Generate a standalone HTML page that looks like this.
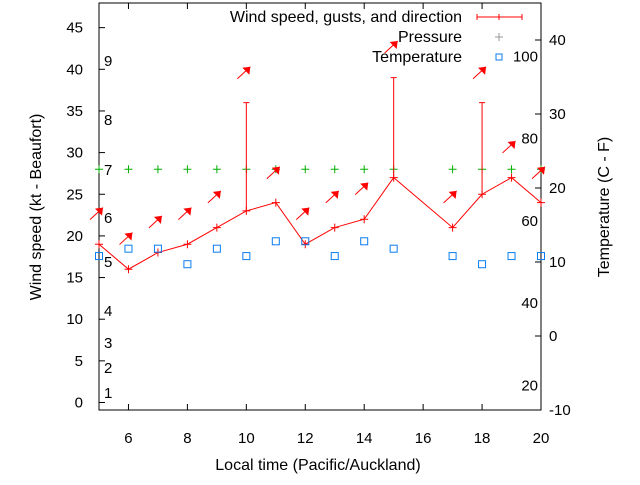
<!DOCTYPE html>
<html><head><meta charset="utf-8"><style>
body{margin:0;background:#fff;}
svg text{font-family:"Liberation Sans",sans-serif;font-size:15px;fill:#000;}
svg text.big{font-size:16px;}
</style></head><body>
<svg id="chart" width="640" height="480" xmlns="http://www.w3.org/2000/svg"></svg>
<script>
const hours=[5,6,7,8,9,10,11,12,13,14,15,17,18,19,20];
const windSpeed=[19,16,18,19,21,23,24,19,21,22,27,21,25,27,24];
const gustHours=[10,15,18];
const gustValues=[36,39,36];
const pressure=[28,28,28,28,28,28,28,28,28,28,28,28,28,28,28];
const temperature=[10.8,11.8,11.8,9.7,11.8,10.8,12.8,12.8,10.8,12.8,11.8,10.8,9.7,10.8,10.8];
const arrowTip=[23.4,20.4,22.4,23.4,25.4,40.3,28.3,23.4,25.4,26.4,43.4,25.4,40.3,31.4,28.3];
const xTicks=[6,8,10,12,14,16,18,20];
const yTicks=[0,5,10,15,20,25,30,35,40,45];
const y2Ticks=[-10,0,10,20,30,40];
const beaufortLabels=["1","2","3","4","5","6","7","8","9"];
const fLabels=["20","40","60","80","100"];
const fVals=[20,40,60,80,100];

const L=99,R=541,T=3,B=410;
const X=h=>L+(h-5)*(R-L)/15;
const Y=v=>402.5-v*8.33;
const Y2=c=>410-(c+10)*7.4;
const svg=document.getElementById('chart');
const NS='http://www.w3.org/2000/svg';
function mk(tag,attrs,parent){const e=document.createElementNS(NS,tag);for(const k in attrs)e.setAttribute(k,attrs[k]);(parent||svg).appendChild(e);return e;}
function txt(s,x,y,anchor){const t=mk('text',{x:x,y:y,'text-anchor':anchor||'start'});t.textContent=s;return t;}

let f=mk('rect',{x:L,y:T,width:R-L,height:B-T,fill:'none',stroke:'#000','stroke-width':1});



xTicks.forEach(h=>{
  mk('line',{x1:X(h),x2:X(h),y1:B,y2:B-6,stroke:'#000'});
  mk('line',{x1:X(h),x2:X(h),y1:T,y2:T+6,stroke:'#000'});
  const t=txt(String(h),X(h),443,'middle');
  
  
});
yTicks.forEach(v=>{
  mk('line',{x1:L,x2:L+6,y1:Y(v),y2:Y(v),stroke:'#000'});
  const t=txt(String(v),83,Y(v)+5,'end');
  
  
});
y2Ticks.forEach(v=>{
  mk('line',{x1:R,x2:R-6,y1:Y2(v),y2:Y2(v),stroke:'#000'});
  const t=txt(String(v),549,Y2(v)+5,'start');
  
  
});
const bfY=[393,368,343,311,262,218,170,120,61];
beaufortLabels.forEach((s,i)=>{
  const t=txt(s,104,bfY[i]+5,'start');
  
  
});
fLabels.forEach((s,i)=>{
  const t=txt(s,538,Y2((fVals[i]-32)*5/9)+5,'end');
  
  
});

let t=txt('Local time (Pacific/Auckland)',318,470,'middle');
t.setAttribute('class','big');

t=mk('text',{x:0,y:0,'text-anchor':'middle','class':'big',transform:'translate(41,207) rotate(-90)'});t.textContent='Wind speed (kt - Beaufort)';

t=mk('text',{x:0,y:0,'text-anchor':'middle','class':'big',transform:'translate(609,207) rotate(-90)'});t.textContent='Temperature (C - F)';


function plus(x,y,col,name){const g=mk('path',{d:`M${x-4},${y}H${x+4}M${x},${y-4}V${y+4}`,stroke:col,fill:'none'});
return g;}

pressure.forEach((p,i)=>plus(X(hours[i]),Y(p),'#00b000','pressure-point'));
gustHours.forEach((h,i)=>{
  const ws=windSpeed[hours.indexOf(h)];
  const g=mk('path',{d:`M${X(h)},${Y(ws)}V${Y(gustValues[i])}M${X(h)-3},${Y(gustValues[i])}H${X(h)+3}`,stroke:'#f00',fill:'none'});
  
});
let d='';hours.forEach((h,i)=>{d+=(i===0?'M':'L')+X(h)+','+Y(windSpeed[i]);});
let wl=mk('path',{d:d,stroke:'#f00',fill:'none','stroke-width':1});

hours.forEach((h,i)=>plus(X(h),Y(windSpeed[i]),'#f00','wind-speed-point'));
temperature.forEach((c,i)=>{
  const r=mk('rect',{x:X(hours[i])-3.5,y:Y2(c)-3.5,width:7,height:7,fill:'none',stroke:'#0a7cf0','stroke-width':1});
  
});
arrowTip.forEach((v,i)=>{
  const x=X(hours[i])+4,y=Y(v);
  const g=mk('g',{});
  
  mk('line',{x1:x-13,y1:y+12,x2:x,y2:y,stroke:'#f00','stroke-width':1},g);
  mk('polygon',{points:`${x},${y} ${x-8},${y+1} ${x-1},${y+8}`,fill:'#f00'},g);
});

const lg=mk('g',{});

[['Wind speed, gusts, and direction',22],['Pressure',42],['Temperature',62]].forEach(a=>{
  const e=mk('text',{x:462,y:a[1],'text-anchor':'end','class':'big'},lg);e.textContent=a[0];
  
});
mk('path',{d:'M477,17H522M477,14V20M522,14V20M499,14V20',stroke:'#f00',fill:'none'},lg);
mk('path',{d:'M495,37H503M499,33V41',stroke:'#999',fill:'none'},lg);
mk('rect',{x:496,y:54,width:6,height:6,fill:'none',stroke:'#0a7cf0','stroke-width':1},lg);
</script>
</body></html>
